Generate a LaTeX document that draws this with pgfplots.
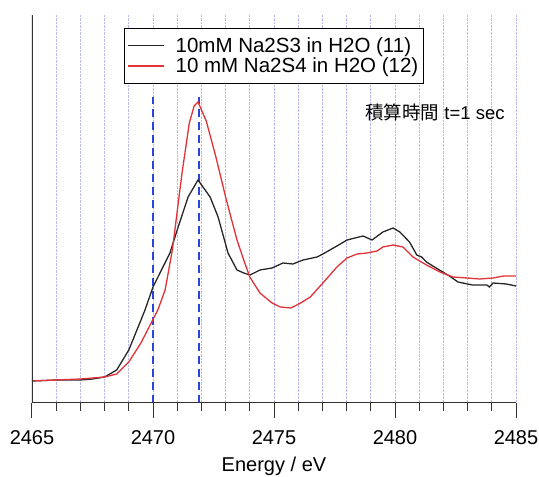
\documentclass[border=0pt]{standalone}
\usepackage{pgfplots}
\pgfplotsset{compat=1.18}
\usepackage{fontspec}
\setmainfont{Liberation Sans}
\newfontfamily\cjk{Noto Sans CJK JP}

\definecolor{vline}{RGB}{40,70,220}
\definecolor{sfourred}{RGB}{224,50,56}
\definecolor{axgray}{RGB}{50,50,50}
\definecolor{gridc}{RGB}{185,185,235}

% Na2S3 (11), arbitrary units
\pgfplotstableread{
x y
2465.0 22
2466.0 23
2467.0 23
2467.5 24
2468.0 26
2468.5 33
2469.0 53
2469.67 93
2470.0 116
2470.7 150
2471.0 173
2471.45 206
2471.86 223
2472.36 206
2472.69 186
2473.1 150
2473.47 133
2473.75 130
2474.01 128
2474.42 133
2474.92 135
2475.37 140
2475.78 139
2476.2 143
2476.78 146
2477.02 149
2477.6 157
2478.02 163
2478.35 165
2478.68 167
2479.05 163
2479.5 171
2479.92 175
2480.2 171
2480.6 161
2480.9 148
2481.1 146
2481.3 141
2481.7 135
2482.25 127
2482.6 121
2483.2 118
2483.8 118
2483.9 116
2484.05 120
2484.6 119
2485.0 117
}\sthree

% Na2S4 (12)
\pgfplotstableread{
x y
2465.0 22
2466.0 23
2467.0 24
2467.5 25
2468.0 26
2468.5 29
2469.0 41
2469.5 60
2470.2 93
2470.5 113
2470.8 153
2471.2 230
2471.5 280
2471.7 297
2471.86 301
2472.2 282
2472.6 246
2473.0 206
2473.47 163
2473.75 143
2474.0 126
2474.42 110
2474.92 100
2475.26 96
2475.7 95
2476.1 100
2476.5 106
2477.02 120
2477.6 136
2478.02 145
2478.43 149
2478.84 150
2479.26 152
2479.5 156
2479.92 158
2480.33 156
2480.74 146
2481.3 138
2481.86 131
2482.4 126
2482.98 125
2483.5 124
2484.05 125
2484.5 127
2485.0 127
}\sfour

\begin{document}
\begin{tikzpicture}
\begin{axis}[
  scale only axis,
  width=484pt, height=388pt,
  xmin=2465, xmax=2485, ymin=0, ymax=388,
  axis line style={draw=none},
  ytick=\empty,
  xtick={2465,2470,...,2485},
  xticklabel=\empty,
  minor x tick num=4,
  major tick length=0pt, minor tick length=0pt,
  xminorgrids,
  extra x ticks={2470,2475,2480,2485},
  extra x tick labels={},
  extra x tick style={xmajorgrids=true},
  major grid style={densely dotted, gridc, line width=0.7pt},
  minor grid style={densely dotted, gridc, line width=0.7pt},
  legend style={at={(0.19,0.966)}, anchor=north west, draw=black, line width=0.8pt,
    font=\fontsize{20.5}{20}\selectfont, inner xsep=3pt, inner ysep=7pt, row sep=0pt,
    cells={anchor=west}},
  legend image code/.code={\draw[#1, line width=1.3pt] (0pt,0pt) -- (36pt,0pt); \path (45pt,0pt);},
]
\addplot[vline, line width=2pt, dash pattern=on 8pt off 5pt, forget plot] coordinates {(2470,0) (2470,306)};
\addplot[vline, line width=2pt, dash pattern=on 8pt off 5pt, forget plot] coordinates {(2471.9,0) (2471.9,306)};
\addplot[black!85, line width=1.3pt] table[x=x, y=y] {\sthree};
\addplot[sfourred, line width=1.3pt] table[x=x, y=y] {\sfour};
\legend{10mM Na2S3 in H2O (11), 10 mM Na2S4 in H2O (12)}
\node[font=\fontsize{18.5}{20}\selectfont] at (axis cs:2481.65,291) {{\cjk 積算時間} t=1 sec};
\draw[axgray, line width=1.2pt] (rel axis cs:0,1) -- (rel axis cs:0,0) -- (rel axis cs:1,0);
\end{axis}
% ticks below the axis: 1 eV = 24.2pt, labels every 5 eV
\foreach \i in {0,...,20} \draw[axgray, line width=1pt] (\i*24.2pt,0pt) -- ++(0pt,-8pt);
\foreach \v [count=\k from 0] in {2465,2470,2475,2480,2485} {
  \draw[axgray, line width=1pt] (\k*121pt,0pt) -- ++(0pt,-15pt);
  \node[anchor=base, font=\fontsize{20}{24}\selectfont, inner sep=0pt] at (\k*121pt,-42pt) {\v};
}
\node[anchor=base, font=\fontsize{20}{24}\selectfont, inner sep=0pt] at (242pt,-69pt) {Energy / eV};
\pgfresetboundingbox
\path[use as bounding box] (-32pt,-74pt) rectangle (507pt,403pt);
\end{tikzpicture}
\end{document}
